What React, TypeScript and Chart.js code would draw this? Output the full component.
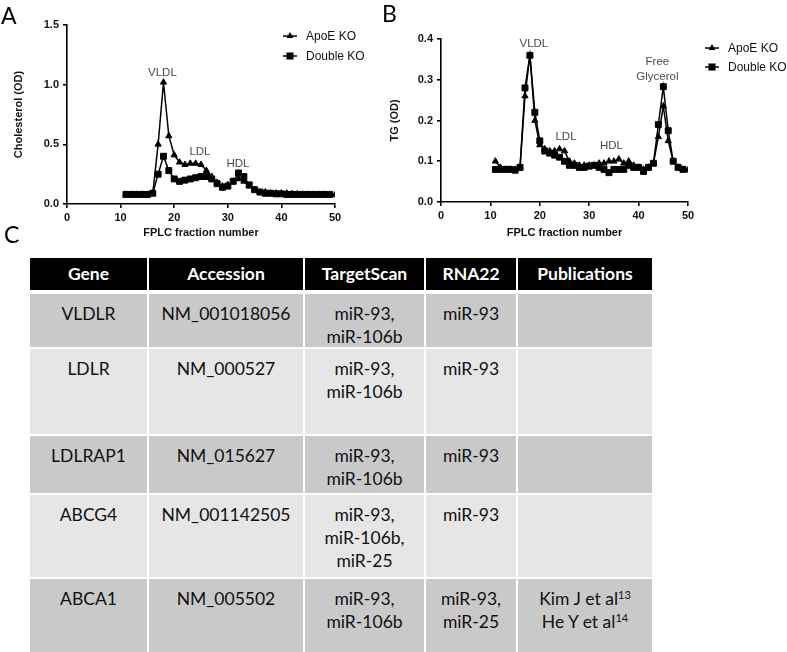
import React, { useEffect, useRef } from "react";
import { Chart, registerables } from "chart.js";

Chart.register(...registerables);

// ---------- DATA ----------
const fractions = [11, 12, 13, 14, 15, 16, 17, 18, 19, 20, 21, 22, 23, 24, 25, 26, 27, 28, 29, 30,
  31, 32, 33, 34, 35, 36, 37, 38, 39, 40, 41, 42, 43, 44, 45, 46, 47, 48, 49, 50];

const cholApoE = [0.08, 0.08, 0.08, 0.08, 0.08, 0.09, 0.5, 1.02, 0.57, 0.41, 0.35, 0.33, 0.34, 0.34, 0.33, 0.28, 0.23, 0.18, 0.15, 0.16,
  0.19, 0.21, 0.19, 0.15, 0.12, 0.1, 0.1, 0.09, 0.09, 0.09, 0.09, 0.085, 0.085, 0.08, 0.08, 0.08, 0.08, 0.08, 0.08, 0.075];
const cholDouble = [0.08, 0.08, 0.08, 0.08, 0.08, 0.09, 0.25, 0.4, 0.28, 0.21, 0.19, 0.2, 0.21, 0.22, 0.23, 0.23, 0.21, 0.17, 0.14, 0.15,
  0.19, 0.26, 0.23, 0.16, 0.12, 0.1, 0.09, 0.09, 0.085, 0.085, 0.08, 0.08, 0.08, 0.08, 0.08, 0.08, 0.08, 0.08, 0.08];

const tgApoE = [0.1, 0.085, 0.08, 0.08, 0.08, 0.085, 0.26, 0.36, 0.2, 0.14, 0.13, 0.125, 0.125, 0.13, 0.125, 0.1, 0.095, 0.09, 0.09, 0.09,
  0.09, 0.095, 0.095, 0.1, 0.1, 0.105, 0.095, 0.1, 0.09, 0.085, 0.08, 0.085, 0.095, 0.16, 0.235, 0.15, 0.1, 0.085, 0.08, 0.078];
const tgDouble = [0.08, 0.08, 0.08, 0.08, 0.078, 0.085, 0.28, 0.36, 0.22, 0.15, 0.125, 0.12, 0.115, 0.11, 0.1, 0.09, 0.09, 0.085, 0.085, 0.088,
  0.09, 0.085, 0.08, 0.072, 0.08, 0.08, 0.08, 0.09, 0.085, 0.085, 0.075, 0.085, 0.095, 0.19, 0.283, 0.175, 0.1, 0.085, 0.08];

const seriesNames = ["ApoE KO", "Double KO"];

const notesA = [
  { text: "VLDL", x: 17.8, y: 1.1 },
  { text: "LDL", x: 24.8, y: 0.44 },
  { text: "HDL", x: 31.9, y: 0.34 },
];
const notesB = [
  { text: "VLDL", x: 18.8, y: 0.388 },
  { text: "LDL", x: 25.3, y: 0.16 },
  { text: "HDL", x: 34.5, y: 0.137 },
  { text: "Free", x: 43.8, y: 0.343 },
  { text: "Glycerol", x: 43.8, y: 0.307 },
];

const tableColumns = ["Gene", "Accession", "TargetScan", "RNA22", "Publications"];
const genes = ["VLDLR", "LDLR", "LDLRAP1", "ABCG4", "ABCA1"];
const accessions = ["NM_001018056", "NM_000527", "NM_015627", "NM_001142505", "NM_005502"];
const targetScan = [
  ["miR-93,", "miR-106b"],
  ["miR-93,", "miR-106b"],
  ["miR-93,", "miR-106b"],
  ["miR-93,", "miR-106b,", "miR-25"],
  ["miR-93,", "miR-106b"],
];
const rna22 = [["miR-93"], ["miR-93"], ["miR-93"], ["miR-93"], ["miR-93,", "miR-25"]];
const publications: [string, string][][] = [[], [], [], [], [["Kim J et al", "13"], ["He Y et al", "14"]]];

// ---------- LAYOUT ----------
const FONT = "'Liberation Sans', Arial, sans-serif";
const TFONT = "Lato, 'Open Sans', sans-serif";

type Note = { text: string; x: number; y: number };

function drawMarker(ctx: CanvasRenderingContext2D, style: string, x: number, y: number, r: number) {
  ctx.beginPath();
  if (style === "triangle") {
    ctx.moveTo(x, y - r);
    ctx.lineTo(x + r * 0.866, y + r * 0.5);
    ctx.lineTo(x - r * 0.866, y + r * 0.5);
    ctx.closePath();
  } else {
    const s = r * 0.707;
    ctx.rect(x - s, y - s, 2 * s, 2 * s);
  }
  ctx.fill();
}

function makeOverlay(notes: Note[], legendX: number, legendY: number[]) {
  return {
    id: "overlay",
    afterDatasetsDraw(chart: any) {
      const ctx: CanvasRenderingContext2D = chart.ctx;
      const xs = chart.scales.x;
      const ys = chart.scales.y;
      ctx.save();
      ctx.font = `11.5px ${FONT}`;
      ctx.fillStyle = "#4a4a4a";
      ctx.textAlign = "center";
      ctx.textBaseline = "middle";
      notes.forEach((n) => ctx.fillText(n.text, xs.getPixelForValue(n.x), ys.getPixelForValue(n.y)));
      // legend
      const styles = ["triangle", "rect"];
      seriesNames.forEach((name, i) => {
        const ly = legendY[i];
        ctx.strokeStyle = "#000";
        ctx.fillStyle = "#000";
        ctx.lineWidth = 1.5;
        ctx.beginPath();
        ctx.moveTo(legendX - 7, ly);
        ctx.lineTo(legendX + 7, ly);
        ctx.stroke();
        drawMarker(ctx, styles[i], legendX, ly, i === 0 ? 4 : 5);
        ctx.fillStyle = "#111";
        ctx.textAlign = "left";
        ctx.font = `12px ${FONT}`;
        ctx.fillText(name, legendX + 16, ly + 0.5);
      });
      ctx.restore();
    },
  };
}

type ChartSpec = {
  width: number;
  height: number;
  area: { left: number; right: number; top: number; bottom: number };
  yMax: number;
  yStep: number;
  yTitle: string;
  yTitlePad: number;
  apoe: number[];
  dbl: number[];
  notes: Note[];
  legendX: number;
  legendY: number[];
};

function LineChart({ spec }: { spec: ChartSpec }) {
  const ref = useRef<HTMLCanvasElement>(null);
  useEffect(() => {
    if (!ref.current) return;
    const { area } = spec;
    const tickFont = { family: FONT, size: 11, weight: "bold" as const };
    const axisCommon = {
      border: { display: true, color: "#000", width: 1.6 },
      grid: { display: true, drawOnChartArea: false, drawTicks: true, tickLength: 4, color: "#000", lineWidth: 1.6 },
    };
    const chart = new Chart(ref.current, {
      type: "line",
      data: {
        datasets: [
          {
            label: seriesNames[0],
            data: spec.apoe.map((v, i) => ({ x: fractions[i], y: v })),
            borderColor: "#000",
            backgroundColor: "#000",
            borderWidth: 1.5,
            pointStyle: "triangle",
            pointRadius: 3.6,
            pointBorderWidth: 1,
            order: 1,
          },
          {
            label: seriesNames[1],
            data: spec.dbl.map((v, i) => ({ x: fractions[i], y: v })),
            borderColor: "#000",
            backgroundColor: "#000",
            borderWidth: 1.5,
            pointStyle: "rect",
            pointRadius: 4.2,
            pointBorderWidth: 1,
            order: 0,
          },
        ],
      },
      options: {
        responsive: false,
        animation: false,
        events: [],
        layout: { padding: { left: 0, top: area.top, right: spec.width - area.right, bottom: 0 } },
        plugins: { legend: { display: false }, tooltip: { enabled: false } },
        scales: {
          x: {
            type: "linear",
            min: 0,
            max: 50,
            ...axisCommon,
            ticks: { stepSize: 10, color: "#111", font: tickFont, padding: 3, maxRotation: 0 },
            title: {
              display: true,
              text: "FPLC fraction number",
              color: "#111",
              font: { family: FONT, size: 11, weight: "bold" },
              padding: { top: 0, bottom: 5 },
            },
            afterFit: (s: any) => {
              s.height = spec.height - area.bottom;
            },
          },
          y: {
            type: "linear",
            min: 0,
            max: spec.yMax,
            ...axisCommon,
            ticks: {
              stepSize: spec.yStep,
              color: "#111",
              font: tickFont,
              padding: 4,
              callback: (v: any) => Number(v).toFixed(1),
            },
            title: {
              display: true,
              text: spec.yTitle,
              color: "#111",
              font: { family: FONT, size: 11, weight: "bold" },
              padding: { top: spec.yTitlePad, bottom: 0 },
            },
            afterFit: (s: any) => {
              s.width = area.left;
            },
          },
        },
      },
      plugins: [makeOverlay(spec.notes, spec.legendX, spec.legendY)],
    });
    return () => chart.destroy();
  }, [spec]);
  return <canvas ref={ref} width={spec.width} height={spec.height} style={{ width: spec.width, height: spec.height, display: "block" }} />;
}

const specA: ChartSpec = {
  width: 385,
  height: 245,
  area: { left: 67, right: 335, top: 25, bottom: 204 },
  yMax: 1.5,
  yStep: 0.5,
  yTitle: "Cholesterol (OD)",
  yTitlePad: 12,
  apoe: cholApoE,
  dbl: cholDouble,
  notes: notesA,
  legendX: 290,
  legendY: [36, 56],
};

const specB: ChartSpec = {
  width: 402,
  height: 245,
  area: { left: 56, right: 303, top: 39, bottom: 202 },
  yMax: 0.4,
  yStep: 0.1,
  yTitle: "TG (OD)",
  yTitlePad: 3.5,
  apoe: tgApoE,
  dbl: tgDouble,
  notes: notesB,
  legendX: 327,
  legendY: [48, 67],
};

const colX: [number, number][] = [[30, 147], [149, 303], [305, 424], [426, 516], [518, 652]];
const headerY: [number, number] = [258, 290];
const rowY: [number, number][] = [[294, 347], [349, 434], [436, 493], [495, 577], [579, 652]];
const rowBg = ["#c9c9c9", "#e6e6e6", "#c9c9c9", "#e6e6e6", "#c9c9c9"];

function Cell({ x, y, bg, children, header }: { x: [number, number]; y: [number, number]; bg: string; children: React.ReactNode; header?: boolean }) {
  return (
    <div
      style={{
        position: "absolute",
        left: x[0],
        top: y[0],
        width: x[1] - x[0],
        height: y[1] - y[0],
        background: bg,
        color: header ? "#fff" : "#111",
        fontFamily: TFONT,
        fontSize: 17.5,
        fontWeight: header ? 700 : 400,
        lineHeight: header ? `${y[1] - y[0]}px` : "23px",
        textAlign: "center",
        paddingTop: header ? 0 : 7.5,
        boxSizing: "border-box",
        whiteSpace: "nowrap",
      }}
    >
      {children}
    </div>
  );
}

function Lines({ lines }: { lines: string[] }) {
  return (
    <>
      {lines.map((l, i) => (
        <div key={i}>{l}</div>
      ))}
    </>
  );
}

export default function App() {
  const panelLetter = (t: string, left: number, top: number) => (
    <div style={{ position: "absolute", left, top, fontFamily: TFONT, fontSize: 23, lineHeight: "28px", color: "#000" }}>{t}</div>
  );
  return (
    <div style={{ position: "absolute", left: 0, top: 0, width: 787, height: 652, background: "#fff", overflow: "hidden" }}>
      <div style={{ position: "absolute", left: 0, top: 0 }}>
        <LineChart spec={specA} />
      </div>
      <div style={{ position: "absolute", left: 385, top: 0 }}>
        <LineChart spec={specB} />
      </div>
      {panelLetter("A", 1, 1)}
      {panelLetter("B", 382, -1)}
      {panelLetter("C", 4, 220)}
      {tableColumns.map((c, j) => (
        <Cell key={"h" + j} x={colX[j]} y={headerY} bg="#000" header>
          {c}
        </Cell>
      ))}
      {genes.map((g, i) => (
        <React.Fragment key={g}>
          <Cell x={colX[0]} y={rowY[i]} bg={rowBg[i]}>{g}</Cell>
          <Cell x={colX[1]} y={rowY[i]} bg={rowBg[i]}>{accessions[i]}</Cell>
          <Cell x={colX[2]} y={rowY[i]} bg={rowBg[i]}><Lines lines={targetScan[i]} /></Cell>
          <Cell x={colX[3]} y={rowY[i]} bg={rowBg[i]}><Lines lines={rna22[i]} /></Cell>
          <Cell x={colX[4]} y={rowY[i]} bg={rowBg[i]}>
            {publications[i].map(([t, s], k) => (
              <div key={k}>
                {t}
                <sup style={{ fontSize: 11, lineHeight: 0, verticalAlign: "6px" }}>{s}</sup>
              </div>
            ))}
          </Cell>
        </React.Fragment>
      ))}
    </div>
  );
}
